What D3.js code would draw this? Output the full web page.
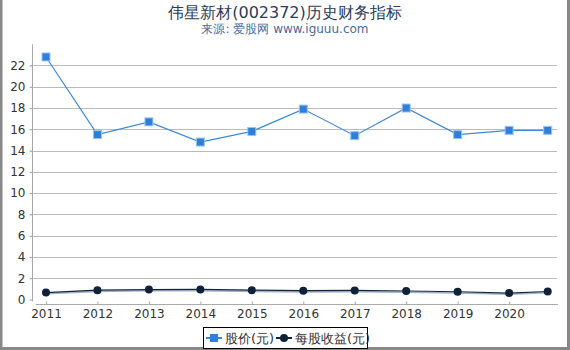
<!DOCTYPE html>
<html>
<head>
<meta charset="utf-8">
<script src="https://cdn.jsdelivr.net/npm/d3@7"></script>
<style>
  body { margin: 0; background: #fff; }
  svg { display: block; font-family: "DejaVu Sans", sans-serif; }
</style>
</head>
<body>
<div id="chart"></div>
<script>
// chart values
const years = [2011, 2012, 2013, 2014, 2015, 2016, 2017, 2018, 2019, 2020, 2020.75];
const priceValues = [22.8, 15.5, 16.7, 14.8, 15.8, 17.9, 15.4, 18.0, 15.5, 15.9, 15.9];
const epsValues = [0.65, 0.88, 0.93, 0.95, 0.88, 0.83, 0.85, 0.80, 0.73, 0.60, 0.75];
const xTickYears = [2011, 2012, 2013, 2014, 2015, 2016, 2017, 2018, 2019, 2020];
const yTickValues = [0, 2, 4, 6, 8, 10, 12, 14, 16, 18, 20, 22];
const seriesNames = ["股价(元)", "每股收益(元)"];

const width = 570, height = 350;

const svg = d3.select("#chart").append("svg")
    .attr("width", width)
    .attr("height", height);

// scales
const x = d3.scaleLinear().domain([2010.8, 2020.95]).range([35.7, 558]);
const y = d3.scaleLinear().domain([0, 24]).range([299.5, 44.2]);

// outer frame (left, right, bottom)
svg.append("path")
    .attr("d", "M1,0 V348.5 H568.5 V0")
    .attr("fill", "none")
    .attr("stroke", "#888")
    .attr("stroke-width", 3);

// title
svg.append("text")
    .attr("x", 285).attr("y", 18)
    .attr("text-anchor", "middle")
    .attr("font-size", 16)
    .attr("fill", "#2b3d5c")
    .text("伟星新材(002372)历史财务指标");

svg.append("text")
    .attr("x", 285).attr("y", 33)
    .attr("text-anchor", "middle")
    .attr("font-size", 12)
    .attr("fill", "#4a6b9a")
    .text("来源: 爱股网 www.iguuu.com");

// grid lines
svg.append("g")
    .selectAll("line")
    .data(yTickValues.filter(d => d > 0))
    .join("line")
    .attr("x1", 30).attr("x2", 557)
    .attr("y1", d => Math.round(y(d)) + 0.5)
    .attr("y2", d => Math.round(y(d)) + 0.5)
    .attr("stroke", "#bbb");

// y axis
const yAxis = svg.append("g")
    .attr("transform", "translate(32.5,0)")
    .call(d3.axisLeft(y).tickValues(yTickValues).tickSize(3).tickPadding(4));
yAxis.select(".domain").attr("d", "M0," + y(24) + "V" + (y(0) + 2)).attr("stroke", "#aaa");
yAxis.selectAll(".tick line").attr("stroke", "#aaa");
yAxis.selectAll(".tick text").attr("font-size", 12).attr("fill", "#333")
    .attr("font-family", "DejaVu Sans, sans-serif");

// x axis
const xAxis = svg.append("g")
    .attr("transform", "translate(0,304.5)")
    .call(d3.axisTop(x).tickValues(xTickYears).tickFormat(d3.format("d")).tickSize(3));
xAxis.select(".domain").attr("d", "M" + x(2010.8) + ",0H" + x(2020.95)).attr("stroke", "#aaa");
xAxis.selectAll(".tick line").attr("stroke", "#aaa");
xAxis.selectAll(".tick text")
    .attr("y", 10)
    .attr("dy", "0.32em")
    .attr("font-size", 12).attr("fill", "#333")
    .attr("font-family", "DejaVu Sans, sans-serif");

const priceData = years.map((d, i) => ({ year: d, value: priceValues[i] }));
const epsData = years.map((d, i) => ({ year: d, value: epsValues[i] }));

const line = d3.line().x(d => x(d.year)).y(d => y(d.value));

// EPS series (dark line with a soft shadow)
svg.append("path")
    .datum(epsData)
    .attr("d", line)
    .attr("transform", "translate(0,1.2)")
    .attr("fill", "none")
    .attr("stroke", "#a3b0c0")
    .attr("stroke-width", 1.6);
svg.append("path")
    .datum(epsData)
    .attr("d", line)
    .attr("fill", "none")
    .attr("stroke", "#112540")
    .attr("stroke-width", 1.2);
svg.append("g")
    .selectAll("circle")
    .data(epsData)
    .join("circle")
    .attr("cx", d => x(d.year))
    .attr("cy", d => y(d.value))
    .attr("r", 4)
    .attr("fill", "#0f2138");

// price series
svg.append("path")
    .datum(priceData)
    .attr("d", line)
    .attr("fill", "none")
    .attr("stroke", "#3c88dc")
    .attr("stroke-width", 1.2);
svg.append("g")
    .selectAll("rect")
    .data(priceData)
    .join("rect")
    .attr("x", d => x(d.year) - 4)
    .attr("y", d => y(d.value) - 4)
    .attr("width", 8)
    .attr("height", 8)
    .attr("fill", "#2f7fd9")
    .attr("stroke", "#9cc4ef")
    .attr("stroke-width", 1);

// legend
const legend = svg.append("g");
legend.append("rect")
    .attr("x", 203.5).attr("y", 327.5)
    .attr("width", 164).attr("height", 21)
    .attr("fill", "#fff")
    .attr("stroke", "#000");

const legendItems = [
    { name: seriesNames[0], x: 206, color: "#3c88dc", marker: "square" },
    { name: seriesNames[1], x: 276, color: "#112540", marker: "circle" }
];
legendItems.forEach(it => {
    legend.append("line")
        .attr("x1", it.x).attr("x2", it.x + 16)
        .attr("y1", 338).attr("y2", 338)
        .attr("stroke", it.color).attr("stroke-width", 2);
    if (it.marker === "square") {
        legend.append("rect")
            .attr("x", it.x + 4).attr("y", 334)
            .attr("width", 8).attr("height", 8)
            .attr("fill", "#2f7fd9");
    } else {
        legend.append("circle")
            .attr("cx", it.x + 8).attr("cy", 338).attr("r", 4)
            .attr("fill", "#0f2138");
    }
    legend.append("text")
        .attr("x", it.x + 19).attr("y", 338)
        .attr("dy", "0.35em")
        .attr("font-size", 13)
        .attr("fill", "#333")
        .text(it.name);
});
</script>
</body>
</html>
